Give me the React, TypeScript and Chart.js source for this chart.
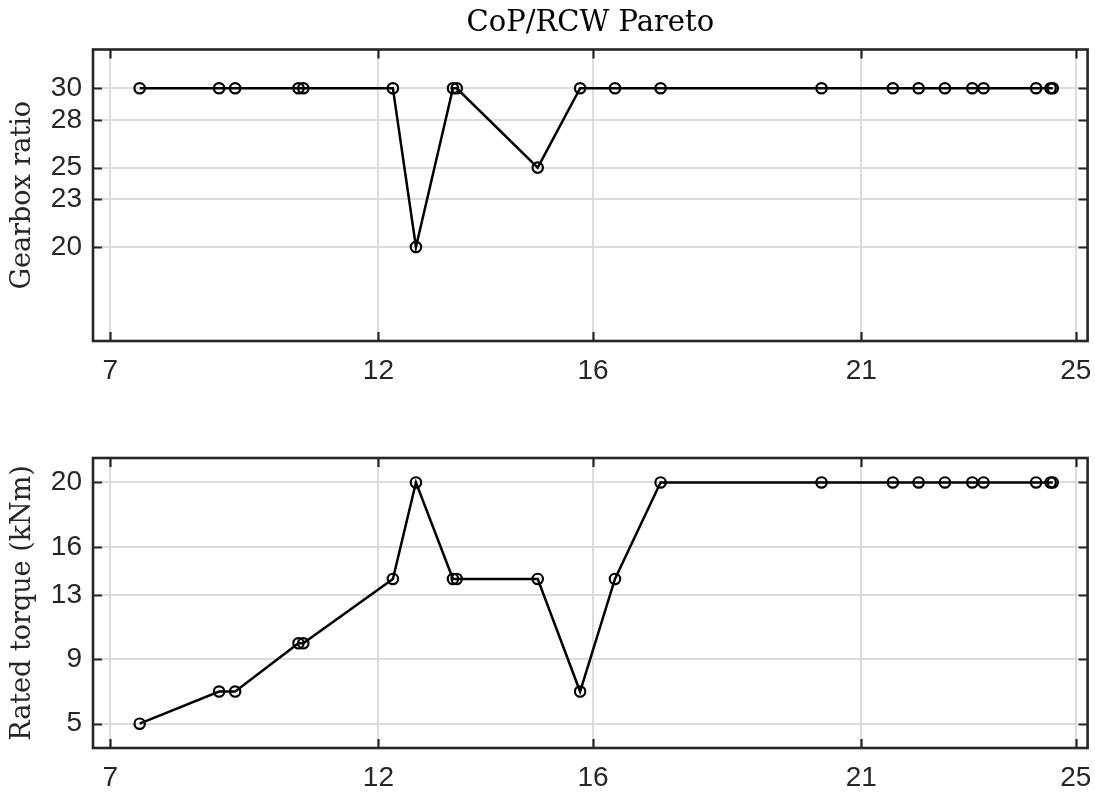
import React, { useEffect, useRef } from 'react';
import { Chart, registerables } from 'chart.js';

Chart.register(...registerables);

// ---- data ----
const xValues = [7.55, 9.03, 9.33, 10.51, 10.6, 12.27, 12.7, 13.39, 13.46, 14.97, 15.76, 16.41, 17.26, 20.26, 21.59, 22.07, 22.56, 23.07, 23.28, 24.26, 24.53, 24.57];
const gearboxRatio = [30, 30, 30, 30, 30, 30, 20, 30, 30, 25, 30, 30, 30, 30, 30, 30, 30, 30, 30, 30, 30, 30];
const ratedTorque = [5, 7, 7, 10, 10, 14, 20, 14, 14, 14, 7, 14, 20, 20, 20, 20, 20, 20, 20, 20, 20, 20];

const xTicks = [7, 12, 16, 21, 25];
const gearTicks = [20, 23, 25, 28, 30];
const torqueTicks = [5, 9, 13, 16, 20];

const titleText = 'CoP/RCW Pareto';
const gearLabel = 'Gearbox ratio';
const torqueLabel = 'Rated torque (kNm)';

const W = 1095;
const H = 397;

const AXIS_COLOR = '#262626';
const GRID_COLOR = '#dcdcdc';
const TICK_FONT = { family: 'Liberation Sans, Arial, sans-serif', size: 28 };
const SERIF_FONT = 'DejaVu Serif, serif';

const framePlugin = {
  id: 'frame',
  afterDraw(chart: any) {
    const { ctx, chartArea } = chart;
    const { left, right, top, bottom } = chartArea;
    const xs = chart.scales.x;
    const ys = chart.scales.y;
    const L = 9;
    ctx.save();
    ctx.strokeStyle = AXIS_COLOR;
    ctx.lineWidth = 2.2;
    ctx.beginPath();
    xs.ticks.forEach((t: any) => {
      const px = Math.round(xs.getPixelForValue(t.value)) + 0.5;
      ctx.moveTo(px, bottom);
      ctx.lineTo(px, bottom - L);
      ctx.moveTo(px, top);
      ctx.lineTo(px, top + L);
    });
    ys.ticks.forEach((t: any) => {
      const py = Math.round(ys.getPixelForValue(t.value)) + 0.5;
      ctx.moveTo(left, py);
      ctx.lineTo(left + L, py);
      ctx.moveTo(right, py);
      ctx.lineTo(right - L, py);
    });
    ctx.stroke();
    ctx.lineWidth = 2.6;
    ctx.strokeRect(left, top, right - left, bottom - top);
    ctx.restore();
  },
};

function makeConfig(opts: {
  ys: number[];
  yMin: number;
  yMax: number;
  yTicks: number[];
  yLabel: string;
  title?: string;
  padTop: number;
  xAxisHeight: number;
}) {
  return {
    type: 'line' as const,
    data: {
      datasets: [
        {
          data: xValues.map((x, i) => ({ x, y: opts.ys[i] })),
          borderColor: '#000',
          borderWidth: 2.5,
          pointRadius: 5.2,
          pointBorderWidth: 2.2,
          pointBorderColor: '#000',
          pointBackgroundColor: 'rgba(0,0,0,0)',
          tension: 0,
          fill: false,
        },
      ],
    },
    options: {
      animation: false as const,
      responsive: false,
      devicePixelRatio: 1,
      layout: { padding: { top: opts.padTop, left: 0, right: 7, bottom: 0 } },
      plugins: {
        legend: { display: false },
        tooltip: { enabled: false },
        title: {
          display: !!opts.title,
          text: opts.title || '',
          fullSize: false,
          color: '#000',
          font: { family: SERIF_FONT, size: 29, weight: 'normal' as const },
          padding: { top: 6.5, bottom: 8.2 },
        },
      },
      scales: {
        x: {
          type: 'linear' as const,
          min: 6.68,
          max: 25.22,
          afterBuildTicks: (s: any) => {
            s.ticks = xTicks.map((v) => ({ value: v }));
          },
          afterFit: (s: any) => {
            s.height = opts.xAxisHeight;
            s.paddingLeft = 0;
            s.paddingRight = 0;
          },
          border: { display: false },
          grid: { color: GRID_COLOR, lineWidth: 2, drawTicks: false },
          ticks: { color: AXIS_COLOR, font: TICK_FONT, padding: 13, autoSkip: false, maxRotation: 0 },
        },
        y: {
          type: 'linear' as const,
          min: opts.yMin,
          max: opts.yMax,
          afterBuildTicks: (s: any) => {
            s.ticks = opts.yTicks.map((v) => ({ value: v }));
          },
          afterFit: (s: any) => {
            s.width = 93;
            s.paddingTop = 0;
            s.paddingBottom = 0;
          },
          border: { display: false },
          grid: { color: GRID_COLOR, lineWidth: 2, drawTicks: false },
          ticks: { color: AXIS_COLOR, font: TICK_FONT, padding: 11, autoSkip: false },
          title: {
            display: true,
            text: opts.yLabel,
            color: AXIS_COLOR,
            font: { family: SERIF_FONT, size: 27, weight: 'normal' as const },
            padding: { top: 7, bottom: 0 },
          },
        },
      },
    },
    plugins: [framePlugin],
  };
}

export default function App() {
  const topRef = useRef<HTMLCanvasElement | null>(null);
  const botRef = useRef<HTMLCanvasElement | null>(null);

  useEffect(() => {
    const c1 = new Chart(
      topRef.current as HTMLCanvasElement,
      makeConfig({
        ys: gearboxRatio,
        yMin: 14.08,
        yMax: 32.44,
        yTicks: gearTicks,
        yLabel: gearLabel,
        title: titleText,
        padTop: 0,
        xAxisHeight: H - 341,
      }) as any
    );
    const c2 = new Chart(
      botRef.current as HTMLCanvasElement,
      makeConfig({
        ys: ratedTorque,
        yMin: 3.49,
        yMax: 21.52,
        yTicks: torqueTicks,
        yLabel: torqueLabel,
        padTop: 458 - H,
        xAxisHeight: H - (748 - H),
      }) as any
    );
    return () => {
      c1.destroy();
      c2.destroy();
    };
  }, []);

  return (
    <div style={{ position: 'absolute', left: 0, top: 0, width: W, height: 794, background: '#fff' }}>
      <canvas ref={topRef} width={W} height={H} style={{ display: 'block', width: W, height: H }} />
      <canvas ref={botRef} width={W} height={H} style={{ display: 'block', width: W, height: H }} />
    </div>
  );
}
